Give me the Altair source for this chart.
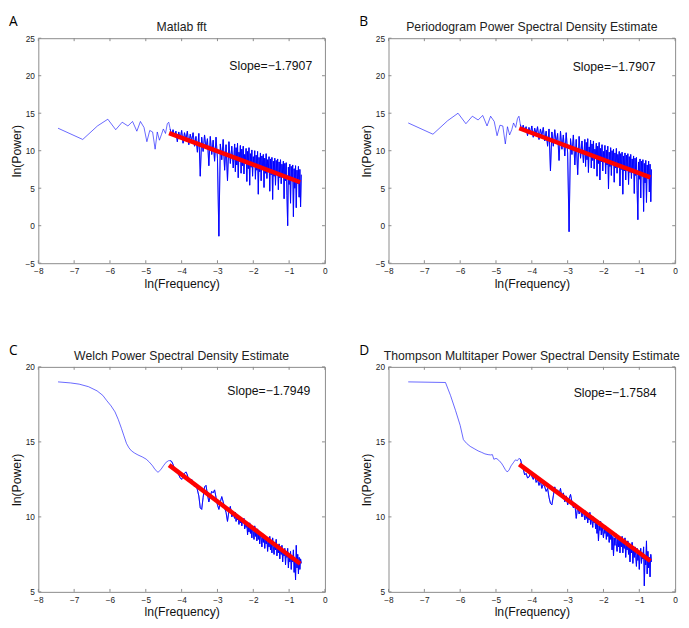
import altair as alt
import pandas as pd

# ---------------- data ----------------
early_x_ab = [-7.45, -6.76, -6.35, -6.06, -5.84, -5.66, -5.50, -5.37, -5.25, -5.15, -5.05,
              -4.97, -4.89, -4.81, -4.74, -4.68, -4.62, -4.56, -4.51, -4.45, -4.40, -4.36]
early_x_c = [-7.45, -7.1, -6.86, -6.6, -6.36, -6.2, -6.09, -5.97, -5.86, -5.77, -5.68, -5.61,
             -5.54, -5.47, -5.40, -5.31, -5.22, -5.10, -4.99, -4.90, -4.81, -4.74, -4.66,
             -4.58, -4.51, -4.43, -4.36]
early_x_d = [-7.45, -6.41, -6.27, -6.13, -6.0, -5.91, -5.82, -5.72, -5.61, -5.50, -5.40, -5.31,
             -5.22, -5.15, -5.10, -5.06, -5.00, -4.95, -4.90, -4.86, -4.80, -4.74, -4.69,
             -4.64, -4.58, -4.52, -4.46, -4.40, -4.36]

dense_x = [-4.32, -4.28, -4.24, -4.20, -4.16, -4.12, -4.08, -4.04, -4.00, -3.96,
           -3.92, -3.88, -3.84, -3.80, -3.76, -3.72, -3.68, -3.64, -3.60, -3.56,
           -3.52, -3.48, -3.44, -3.40, -3.36, -3.32, -3.28, -3.24, -3.20, -3.16,
           -3.12, -3.08, -3.04, -3.00, -2.96, -2.92, -2.88, -2.84, -2.80, -2.76,
           -2.72, -2.68, -2.64, -2.60, -2.56, -2.52,
           -2.50, -2.48, -2.46, -2.44, -2.42, -2.40, -2.38, -2.36, -2.34, -2.32,
           -2.30, -2.28, -2.26, -2.24, -2.22, -2.20, -2.18, -2.16, -2.14, -2.12,
           -2.10, -2.08, -2.06, -2.04, -2.02, -2.00, -1.98, -1.96, -1.94, -1.92,
           -1.90, -1.88, -1.86, -1.84, -1.82, -1.80, -1.78, -1.76, -1.74, -1.72,
           -1.70, -1.68, -1.66, -1.64, -1.62, -1.60, -1.58, -1.56, -1.54, -1.52,
           -1.50, -1.48, -1.46, -1.44, -1.42, -1.40, -1.38, -1.36, -1.34, -1.32,
           -1.30, -1.28, -1.26, -1.24, -1.22, -1.20, -1.18, -1.16, -1.14, -1.12,
           -1.10, -1.08, -1.06, -1.04, -1.02, -1.00, -0.98, -0.96, -0.94, -0.92,
           -0.90, -0.88, -0.86, -0.84, -0.82, -0.80, -0.78, -0.76, -0.74, -0.72,
           -0.70, -0.68, -0.66]

a_early_y = [13.0, 11.5, 13.3, 14.2, 12.8, 13.8, 13.3, 13.9, 12.6, 13.9, 13.1,
             11.2, 12.7, 12.5, 10.2, 12.5, 11.4, 12.2, 12.9, 12.3, 13.6, 13.8]
a_dense_y = [12.9, 12.0, 12.8, 11.9, 12.6, 11.2, 12.5, 11.6, 12.7, 11.0,
             12.4, 11.5, 12.6, 10.8, 12.2, 11.3, 12.4, 10.6, 11.9, 9.8,
             12.3, 6.6, 11.8, 9.9, 12.1, 10.3, 11.6, 8.0, 11.9, 9.5,
             11.4, 8.6, 11.8, 9.0, -1.4, 10.9, 8.8, 11.5, 7.4, 10.8,
             6.0, 11.2, 8.3, 10.6, 7.7, 10.9,
             7.2, 10.4, 8.1, 11.0, 6.4, 9.8, 8.6, 10.7, 7.0, 10.2,
             8.0, 10.6, 6.9, 9.5, 8.4, 10.3, 5.9, 9.9, 7.6, 10.4,
             5.4, 9.6, 7.8, 10.1, 6.6, 9.2, 8.0, 10.0, 6.2, 9.4,
             7.4, 9.9, 4.2, 9.1, 7.2, 9.7, 6.0, 9.3, 7.6, 9.5,
             5.1, 9.0, 7.0, 9.6, 6.3, 8.8, 7.5, 9.2, 4.6, 8.9,
             6.8, 9.1, 3.5, 8.6, 6.6, 9.0, 5.4, 8.7, 7.0, 8.9,
             4.8, 8.5, 6.4, 8.8, 5.6, 8.2, 6.9, 8.6, 3.6, 8.3,
             6.0, 8.4, 4.0, 0.0, 7.8, 5.5, 8.2, 3.0, 7.9, 6.2,
             8.1, 1.2, 7.6, 5.0, 8.0, 2.4, 7.4, 5.6, 7.9, 3.8,
             7.5, 2.5, 6.8]

b_early_y = [13.7, 12.2, 14.0, 15.0, 13.6, 14.6, 14.1, 14.7, 13.3, 14.6, 13.9,
             12.0, 13.4, 13.3, 10.9, 13.2, 12.1, 12.8, 13.7, 13.1, 14.3, 14.6]
b_dense_y = [13.5, 12.7, 13.4, 12.6, 13.2, 12.0, 13.1, 12.3, 13.3, 11.8,
             13.0, 12.2, 13.2, 11.5, 12.9, 12.0, 13.1, 11.3, 12.6, 10.6,
             12.9, 7.3, 12.5, 10.6, 12.8, 11.0, 12.3, 8.7, 12.6, 10.2,
             12.1, 9.3, 12.4, 9.7, -0.8, 11.6, 9.5, 12.1, 8.1, 11.5,
             6.8, 11.9, 9.0, 11.3, 8.4, 11.5,
             7.9, 11.1, 8.8, 11.6, 7.1, 10.5, 9.3, 11.4, 7.7, 10.9,
             8.7, 11.3, 7.6, 10.2, 9.1, 11.0, 6.6, 10.6, 8.3, 11.1,
             6.1, 10.3, 8.5, 10.8, 7.3, 9.9, 8.7, 10.7, 6.9, 10.1,
             8.1, 10.6, 4.9, 9.8, 7.9, 10.4, 6.7, 10.0, 8.3, 10.2,
             5.8, 9.7, 7.7, 10.3, 7.0, 9.5, 8.2, 9.9, 5.3, 9.6,
             7.5, 9.8, 4.2, 9.3, 7.3, 9.7, 6.1, 9.4, 7.7, 9.6,
             5.5, 9.2, 7.1, 9.5, 6.3, 8.9, 7.6, 9.3, 4.3, 9.0,
             6.7, 9.1, 4.7, 0.8, 8.5, 6.2, 8.9, 3.7, 8.6, 6.9,
             8.8, 1.9, 8.3, 5.7, 8.7, 3.1, 8.1, 6.3, 8.6, 4.5,
             8.2, 3.2, 7.5]

c_early_y = [19.0, 18.93, 18.85, 18.68, 18.4, 18.1, 17.75, 17.4, 17.0, 16.5, 15.9, 15.4,
             14.9, 14.6, 14.4, 14.25, 14.13, 14.0, 13.85, 13.65, 13.4, 13.15, 12.97,
             13.15, 13.4, 13.65, 13.75]
c_dense_y = [13.75, 13.7, 13.5, 13.2, 13.0, 12.9, 12.8, 12.6, 12.5, 12.7,
             12.9, 13.0, 12.8, 12.4, 12.3, 12.5, 12.3, 12.0, 12.2, 11.8,
             11.4, 10.6, 10.5, 11.3, 12.0, 12.1, 11.5, 11.0, 11.4, 11.7,
             11.6, 11.8, 11.3, 10.8, 10.5, 11.0, 11.35, 11.0, 10.6, 10.3,
             9.7, 10.4, 10.7, 10.0, 10.2, 9.9,
             10.3, 9.7, 10.1, 9.8, 10.0, 9.5, 9.9, 9.6, 9.9, 9.4,
             9.8, 9.6, 9.9, 9.2, 9.7, 9.3, 9.6, 8.8, 9.5, 9.0,
             9.6, 8.9, 9.4, 8.6, 9.3, 9.0, 8.5, 9.4, 8.7, 9.1,
             8.4, 9.2, 8.5, 9.0, 8.2, 8.9, 8.6, 8.0, 8.9, 8.3,
             8.8, 7.9, 8.7, 8.2, 8.6, 7.7, 8.5, 8.0, 8.7, 7.8,
             8.4, 7.6, 8.6, 8.0, 7.5, 8.3, 7.8, 8.5, 7.4, 8.1,
             7.6, 8.2, 7.2, 8.0, 7.5, 8.1, 7.0, 7.8, 7.4, 7.9,
             6.8, 7.7, 7.3, 7.9, 6.6, 7.5, 7.0, 7.7, 6.5, 7.4,
             7.0, 7.8, 6.3, 7.2, 5.8, 8.1, 6.6, 7.5, 6.2, 7.3,
             6.5, 7.2, 6.9]

d_early_y = [19.0, 18.96, 18.1, 17.1, 16.1, 15.15, 14.9, 14.7, 14.55, 14.4,
             14.3, 14.2, 14.15, 14.13, 14.15, 13.84, 13.9, 13.84, 13.7, 13.63,
             13.4, 13.15, 13.0, 13.1, 13.4, 13.6, 13.8, 13.75, 13.9]
d_dense_y = [13.85, 13.5, 13.2, 12.8, 12.9, 12.6, 12.65, 12.9, 12.7, 12.5,
             12.8, 12.3, 12.5, 12.1, 12.4, 11.9, 12.2, 12.0, 11.7, 11.9,
             11.3, 10.9, 10.8, 11.4, 12.0, 11.6, 11.8, 11.5, 11.9, 11.3,
             11.6, 11.0, 11.4, 10.8, 11.2, 11.5, 11.0, 10.6, 10.9, 9.9,
             10.7, 10.2, 10.5, 10.0, 10.4, 9.8,
             10.4, 9.9, 10.2, 9.6, 10.1, 9.8, 10.3, 9.5, 9.9, 9.7,
             9.3, 10.0, 9.6, 9.9, 9.2, 9.7, 8.9, 9.6, 8.4, 9.4,
             9.1, 9.7, 8.8, 9.5, 9.0, 8.6, 9.3, 8.9, 9.4, 8.5,
             9.2, 8.7, 9.0, 8.3, 9.1, 8.5, 8.8, 7.8, 8.7, 7.4,
             8.6, 8.1, 8.9, 8.2, 7.7, 8.7, 8.0, 8.5, 7.6, 8.4,
             8.0, 8.7, 7.6, 8.3, 7.9, 8.6, 7.3, 8.2, 7.8, 8.4,
             7.5, 8.1, 7.0, 7.9, 7.6, 8.3, 6.9, 7.8, 7.3, 8.0,
             7.4, 6.7, 7.9, 7.1, 7.7, 6.5, 7.5, 7.9, 6.9, 7.6,
             7.2, 8.0, 5.4, 7.4, 6.8, 8.4, 6.2, 7.7, 6.6, 7.3,
             6.0, 7.5, 7.0]

fit_x = [-4.35, -0.69]
fit_a = [12.35, 5.80]
fit_b = [13.0, 6.45]
fit_c = [13.45, 6.88]
fit_d = [13.5, 7.06]

x_ticks = [-8, -7, -6, -5, -4, -3, -2, -1, 0]
y_ticks_ab = [-5, 0, 5, 10, 15, 20, 25]
y_ticks_cd = [5, 10, 15, 20]

titles = ["Matlab fft", "Periodogram Power Spectral Density Estimate",
          "Welch Power Spectral Density Estimate",
          "Thompson Multitaper Power Spectral Density Estimate"]
slopes = ["Slope=\u22121.7907", "Slope=\u22121.7907", "Slope=\u22121.7949", "Slope=\u22121.7584"]
letters = ["A", "B", "C", "D"]

# ---------------- chart ----------------
W, H = 293, 230
FONT = "Liberation Sans"
FRAME = "#8a8a8a"


def panel(letter, title, slope, slope_pos, early_x, early_y, dense_y, fy, yticks, ydom):
    spec = pd.DataFrame({"x": early_x + dense_x, "y": early_y + dense_y})
    dense = pd.DataFrame({"x": dense_x, "y": dense_y})
    fit = pd.DataFrame({"x": fit_x, "y": fy})
    xsc = alt.Scale(domain=[-8, 0], nice=False, zero=False)
    ysc = alt.Scale(domain=ydom, nice=False, zero=False)
    xax = alt.Axis(values=x_ticks, title="ln(Frequency)", labelFlush=False,
                   labelOverlap=False, format="d")
    yax = alt.Axis(values=yticks, title="ln(Power)", labelFlush=False,
                   labelOverlap=False, format="d")
    X = alt.X("x:Q", scale=xsc, axis=xax)
    Y = alt.Y("y:Q", scale=ysc, axis=yax)

    blue = alt.Chart(spec).mark_line(color="#0000ff", strokeWidth=0.6).encode(x=X, y=Y)
    blue_dense = alt.Chart(dense).mark_line(color="#0000ff", strokeWidth=0.9).encode(x=X, y=Y)
    red = alt.Chart(fit).mark_line(color="#ff0000", strokeWidth=4.5, strokeCap="butt").encode(
        x=X, y=Y
    )
    xt = pd.DataFrame({"x": x_ticks})
    yt = pd.DataFrame({"y": yticks})
    tick_style = dict(color=FRAME, strokeWidth=1)
    tb = alt.Chart(xt).mark_rule(**tick_style).encode(
        x=X, y=alt.value(H), y2=alt.value(H - 3))
    tt = alt.Chart(xt).mark_rule(**tick_style).encode(
        x=X, y=alt.value(0), y2=alt.value(3))
    tl = alt.Chart(yt).mark_rule(**tick_style).encode(
        y=Y, x=alt.value(0), x2=alt.value(3))
    tr = alt.Chart(yt).mark_rule(**tick_style).encode(
        y=Y, x=alt.value(W - 3), x2=alt.value(W))

    txt = pd.DataFrame({"slope": [slope], "title": [title], "letter": [letter]})
    slope_t = alt.Chart(txt).mark_text(
        font=FONT, fontSize=12.5, align="right", baseline="middle", color="#111"
    ).encode(text="slope:N", x=alt.value(slope_pos[0]), y=alt.value(slope_pos[1]))
    title_t = alt.Chart(txt).mark_text(
        font=FONT, fontSize=12.5, align="center", baseline="alphabetic", color="#222"
    ).encode(text="title:N", x=alt.value(W / 2), y=alt.value(-7.5))
    letter_t = alt.Chart(txt).mark_text(
        font="Open Sans", fontSize=14, align="left", baseline="alphabetic", color="#000"
    ).encode(text="letter:N", x=alt.value(-30), y=alt.value(-12))

    return alt.layer(blue, blue_dense, red, tb, tt, tl, tr, slope_t, title_t, letter_t).properties(
        width=W, height=H
    )


pA = panel(letters[0], titles[0], slopes[0], (280, 29), early_x_ab, a_early_y, a_dense_y,
           fit_a, y_ticks_ab, [-5, 25])
pB = panel(letters[1], titles[1], slopes[1], (273, 30), early_x_ab, b_early_y, b_dense_y,
           fit_b, y_ticks_ab, [-5, 25])
pC = panel(letters[2], titles[2], slopes[2], (278, 25), early_x_c, c_early_y, c_dense_y,
           fit_c, y_ticks_cd, [5, 20])
pD = panel(letters[3], titles[3], slopes[3], (274, 27), early_x_d, d_early_y, d_dense_y,
           fit_d, y_ticks_cd, [5, 20])

top = alt.hconcat(pA, pB, spacing=31)
bottom = alt.hconcat(pC, pD, spacing=31)

chart = alt.vconcat(top, bottom, spacing=54).properties(padding=0).configure(
    background="white"
).configure_view(
    stroke=FRAME, strokeWidth=1
).configure_axis(
    domain=False, ticks=False, grid=False,
    labelFont=FONT, labelFontSize=8.5, labelColor="#222", labelPadding=4,
    titleFont=FONT, titleFontSize=12.5, titleFontWeight="normal", titleColor="#111",
    titlePadding=2,
)

chart.save("out.html", embed_options={"renderer": "svg", "actions": False})
